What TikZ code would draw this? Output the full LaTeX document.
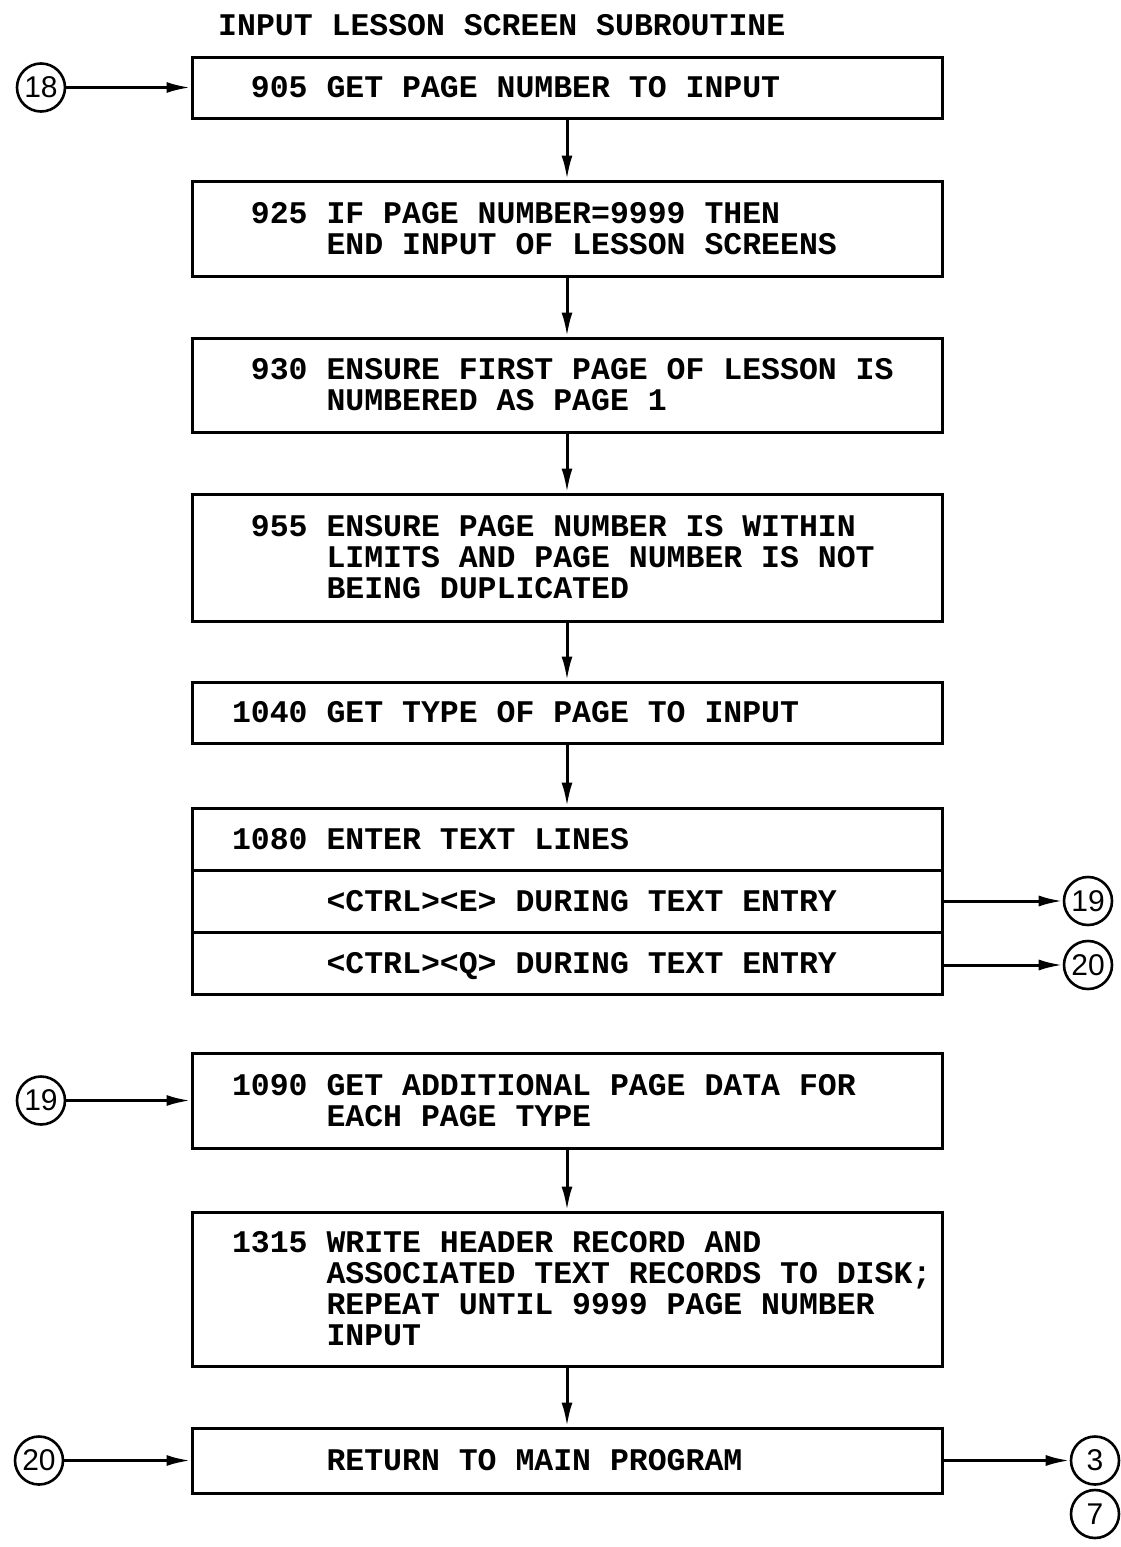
\documentclass[tikz,border=0pt]{standalone}
\usepackage{fontspec}
\newfontfamily\typewriter{Liberation Mono}
\newfontfamily\stencil{Liberation Sans}
\usetikzlibrary{arrows.meta}

\tikzstyle{box}=[draw, line width=3pt, minimum width=750pt, inner sep=0pt]
\tikzstyle{conn}=[circle, draw, line width=2.6pt, minimum size=48pt, inner sep=0pt, font=\stencil\fontsize{30}{30}\selectfont]
\tikzstyle{flow}=[line width=3pt, -{Latex[length=24pt,width=11pt]}]

% typed lines: left margin 40pt, continuation lines under the text
\newcommand{\typefont}{\typewriter\bfseries\fontsize{31.5}{31}\selectfont}
\newcommand{\typed}[1]{\makebox[670pt][l]{\typefont\raisebox{-4pt}[\height][\depth]{\begin{tabular}{@{}l@{}}#1\end{tabular}}}}
\newcommand{\pad}{\hspace*{0.6em}}
\newcommand{\indnt}{\hspace*{3em}}

\begin{document}
\begin{tikzpicture}[x=1pt,y=-1pt]
            \useasboundingbox (0,0) rectangle (1120,1547);
            \node[anchor=west, inner sep=0pt, font=\typefont] at (218,25) (title) {INPUT LESSON SCREEN SUBROUTINE};
            % main column
            \node[box, minimum height=61pt] at (567,87.5) (b905) {\typed{\pad 905 GET PAGE NUMBER TO INPUT}};
            \node[box, minimum height=95pt] at (567,228.5) (b925) {\typed{\pad 925 IF PAGE NUMBER=9999 THEN\\\indnt END INPUT OF LESSON SCREENS}};
            \node[box, minimum height=94pt] at (567,385) (b930) {\typed{\pad 930 ENSURE FIRST PAGE OF LESSON IS\\\indnt NUMBERED AS PAGE 1}};
            \node[box, minimum height=127pt] at (567,557.5) (b955) {\typed{\pad 955 ENSURE PAGE NUMBER IS WITHIN\\\indnt LIMITS AND PAGE NUMBER IS NOT\\\indnt BEING DUPLICATED}};
            \node[box, minimum height=61pt] at (567,712.5) (b1040) {\typed{1040 GET TYPE OF PAGE TO INPUT}};
            \node[box, minimum height=62pt] at (567,839) (b1080) {\typed{1080 ENTER TEXT LINES}};
            \node[box, minimum height=62pt] at (567,901) (ctrle) {\typed{\indnt <CTRL><E> DURING TEXT ENTRY}};
            \node[box, minimum height=62pt] at (567,963) (ctrlq) {\typed{\indnt <CTRL><Q> DURING TEXT ENTRY}};
            \node[box, minimum height=95pt] at (567,1100.5) (b1090) {\typed{1090 GET ADDITIONAL PAGE DATA FOR\\\indnt EACH PAGE TYPE}};
            \node[box, minimum height=154pt] at (567,1289) (b1315) {\typed{1315 WRITE HEADER RECORD AND\\\indnt ASSOCIATED TEXT RECORDS TO DISK;\\\indnt REPEAT UNTIL 9999 PAGE NUMBER\\\indnt INPUT}};
            \node[box, minimum height=65pt] at (567,1460.5) (b2000) {\typed{\indnt RETURN TO MAIN PROGRAM}};
            % connectors
            \node[conn] at (41,87.5) (c18) {18};
            \node[conn] at (1088,901) (c19out) {19};
            \node[conn] at (1088,965) (c20out) {20};
            \node[conn] at (41,1100.5) (c19in) {19};
            \node[conn] at (39,1460.5) (c20in) {20};
            \node[conn] at (1095,1460.5) (c3) {3};
            \node[conn] at (1095,1514) (c7) {7};
            \draw (c18) edge[flow] (b905);
            \draw (b905) edge[flow] (b925);
            \draw (b925) edge[flow] (b930);
            \draw (b930) edge[flow] (b955);
            \draw (b955) edge[flow] (b1040);
            \draw (b1040) edge[flow] (b1080);
            \draw (ctrle) edge[flow] (c19out);
            \draw (ctrlq.east |- c20out) edge[flow] (c20out);
            \draw (c19in) edge[flow] (b1090);
            \draw (b1090) edge[flow] (b1315);
            \draw (b1315) edge[flow] (b2000);
            \draw (c20in) edge[flow] (b2000);
            \draw (b2000) edge[flow] (c3);
        \end{tikzpicture}
\end{document}
